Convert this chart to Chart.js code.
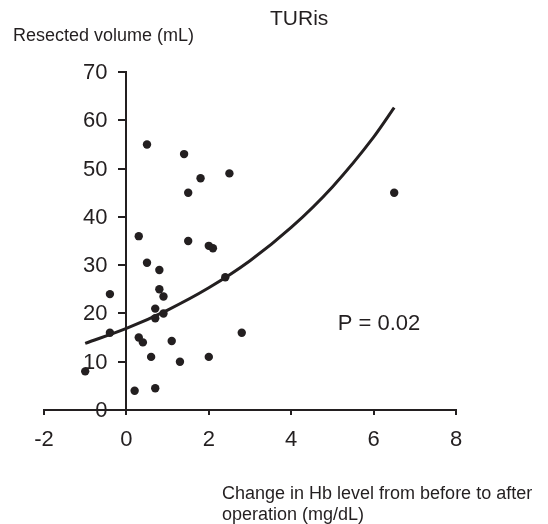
<!DOCTYPE html>
<html><head><meta charset="utf-8">
<script src="https://cdn.jsdelivr.net/npm/chart.js@4"></script>
<style>html,body{margin:0;padding:0;background:#fff}#wrap{width:548px;height:524px;position:relative}</style>
</head><body><div id="wrap"><canvas id="c" width="548" height="524"></canvas></div>
<script>
const chartTitle = 'TURis';
const yAxisTitle = 'Resected volume (mL)';
const xAxisTitle = ['Change in Hb level from before to after', 'operation (mg/dL)'];
const pLabel = 'P = 0.02';

// scatter points: change in Hb (x) vs resected volume (y)
const hbChange =       [0.5, 1.4, 1.8, 2.5, 1.5, 0.3, 1.5, 2.0, 2.1, 0.5, 0.8, -0.4, 0.8, 0.9, 0.7, 0.9, 0.7, -0.4, 0.3, 0.4, 1.1, 0.6, 1.3, 2.0, 2.8, 2.4, -1.0, 0.2, 0.7, 6.5];
const resectedVolume = [55,  53,  48,  49,  45,  36,  35,  34,  33.5, 30.5, 29, 24,  25,  23.5, 21,  20,  19,  16,   15,  14,  14.3, 11, 10,  11,  16,  27.5, 8,   4,   4.5, 45];

// exponential trend line
const trendX = [-1, 0, 1, 2, 3, 4, 5, 6, 6.5];
const trendY = [13.8, 16.9, 20.7, 25.3, 30.9, 37.8, 46.2, 56.5, 62.6];

const xTicks = [-2, 0, 2, 4, 6, 8];
const yTicks = [0, 10, 20, 30, 40, 50, 60, 70];

const INK = '#231f20';
const FONT = '"Liberation Sans", Arial, Helvetica, sans-serif';

const textPlugin = {
  id: 'texts',
  afterDraw(chart) {
    const ctx = chart.ctx;
    const xs = chart.scales.x, ys = chart.scales.y;
    ctx.save();
    ctx.fillStyle = INK;
    // y tick labels, to the left of the y axis at x = 0
    ctx.font = '22px ' + FONT;
    ctx.textAlign = 'right';
    ctx.textBaseline = 'middle';
    const axisPx = xs.getPixelForValue(0);
    yTicks.forEach(v => ctx.fillText(String(v), axisPx - 19, ys.getPixelForValue(v) + 1));
    ctx.textBaseline = 'alphabetic';
    ctx.textAlign = 'left';
    ctx.font = '21px ' + FONT;
    ctx.fillText(chartTitle, 270, 25);
    ctx.font = '18px ' + FONT;
    ctx.fillText(yAxisTitle, 13, 41);
    ctx.fillText(xAxisTitle[0], 222, 499);
    ctx.fillText(xAxisTitle[1], 222, 520);
    ctx.font = '22px ' + FONT;
    ctx.fillText(pLabel, xs.getPixelForValue(5.13), ys.getPixelForValue(16.6));
    ctx.restore();
  }
};

new Chart(document.getElementById('c'), {
  type: 'scatter',
  data: {
    datasets: [
      {
        label: 'trend',
        data: trendX.map((x, i) => ({x, y: trendY[i]})),
        showLine: true,
        pointRadius: 0,
        borderColor: INK,
        borderWidth: 3,
        cubicInterpolationMode: 'monotone',
        fill: false
      },
      {
        label: 'patients',
        data: hbChange.map((x, i) => ({x, y: resectedVolume[i]})),
        pointRadius: 4.2,
        pointBackgroundColor: INK,
        pointBorderWidth: 0,
        showLine: false
      }
    ]
  },
  options: {
    responsive: false,
    animation: false,
    events: [],
    layout: { padding: { left: 44, right: 92, top: 72, bottom: 74 } },
    plugins: { legend: { display: false }, tooltip: { enabled: false }, title: { display: false } },
    scales: {
      x: {
        type: 'linear', min: -2, max: 8, position: 'bottom',
        afterBuildTicks: s => { s.ticks = xTicks.map(v => ({value: v})); },
        afterFit: s => { s.height = 40; },
        ticks: { color: INK, font: { family: FONT, size: 22 }, padding: 12, maxRotation: 0 },
        grid: { drawOnChartArea: false, drawTicks: true, tickLength: 5, color: INK, lineWidth: 2 },
        border: { display: true, color: INK, width: 2 }
      },
      y: {
        type: 'linear', min: 0, max: 70, position: { x: 0 },
        afterBuildTicks: s => { s.ticks = yTicks.map(v => ({value: v})); },
        ticks: { display: false },
        grid: { drawOnChartArea: false, drawTicks: true, tickLength: 7, color: INK, lineWidth: 2 },
        border: { display: true, color: INK, width: 2 }
      }
    }
  },
  plugins: [textPlugin]
});
</script></body></html>
